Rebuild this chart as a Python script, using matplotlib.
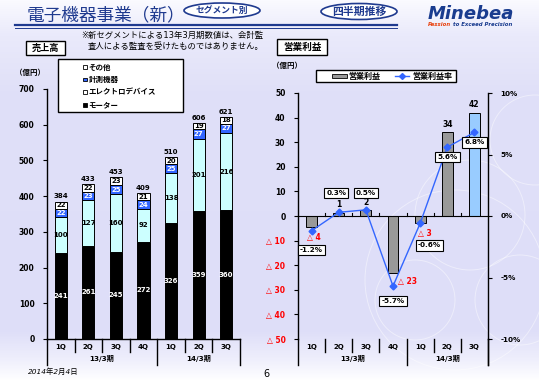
import numpy as np
import matplotlib.pyplot as plt
from matplotlib.patches import Rectangle, Ellipse, Circle
from matplotlib.lines import Line2D

plt.rcParams['font.family'] = ['DejaVu Sans', 'Noto Sans CJK JP']

# データ
quarters = ['1Q', '2Q', '3Q', '4Q', '1Q', '2Q', '3Q']
periods = ['13/3期', '14/3期']

motor = [241, 261, 245, 272, 326, 359, 360]
electro = [100, 127, 160, 92, 138, 201, 216]
measure = [22, 23, 25, 24, 25, 27, 27]
other = [22, 22, 23, 21, 20, 19, 18]
sales_total = [384, 433, 453, 409, 510, 606, 621]

op_profit = [-4.4, 1.4, 2.3, -23, -3, 34, 42]
op_margin = [-1.2, 0.3, 0.5, -5.7, -0.6, 5.6, 6.8]

W, H = 539, 380
NAVY = '#1f3a8f'
BLUE = '#3366ff'
RED = '#ff0000'

fig = plt.figure(figsize=(W / 100, H / 100), dpi=100)

# 背景グラデーション
bg = fig.add_axes([0, 0, 1, 1], zorder=-5)
stops_y = [0, 35, 90, 330, 358, 380]
stops_c = [(250, 250, 255), (234, 234, 251), (224, 224, 248), (222, 222, 248), (238, 238, 252), (255, 255, 255)]
yy = np.arange(H)
grad = np.stack([np.interp(yy, stops_y, [c[i] for c in stops_c]) for i in range(3)], axis=-1) / 255
bg.imshow(grad[:, None, :], aspect='auto', extent=[0, W, H, 0])
for (cx, cy, r) in [(455, 280, 90), (415, 300, 40), (520, 300, 45), (535, 140, 45), (470, 215, 55)]:
    bg.add_patch(Circle((cx, cy), r, fill=False, ec='white', lw=0.7, alpha=0.45))
bg.set_xlim(0, W)
bg.set_ylim(H, 0)
bg.axis('off')

x = np.arange(len(quarters))


def draw_category_axis(ax, h_px):
    tr = ax.get_xaxis_transform()
    for xb in [0.5, 1.5, 2.5, 4.5, 5.5]:
        ax.add_line(Line2D([xb, xb], [0, -13 / h_px], transform=tr, color='black', lw=1, clip_on=False))
    for xb in [-0.5, 3.5, 6.5]:
        ax.add_line(Line2D([xb, xb], [0, -26 / h_px], transform=tr, color='black', lw=1, clip_on=False))
    for xi, q in zip(x, quarters):
        ax.text(xi, -7.5 / h_px, q, transform=tr, ha='center', va='center', fontsize=5, fontweight='bold')
    ax.text(1.5, -19.5 / h_px, periods[0], transform=tr, ha='center', va='center', fontsize=5.2, fontweight='bold')
    ax.text(5, -19.5 / h_px, periods[1], transform=tr, ha='center', va='center', fontsize=5.2, fontweight='bold')


# 売上高
ax1 = fig.add_axes([47 / W, 1 - 339 / H, 193 / W, 250 / H])
ax1.patch.set_alpha(0)
bottom = np.zeros(len(x))
layers = [(motor, 'black', 'white'), (electro, '#ccffff', 'black'),
          (measure, BLUE, 'white'), (other, 'white', 'black')]
for vals, fc, tc in layers:
    ax1.bar(x, vals, 0.44, bottom=bottom, color=fc, edgecolor='black', lw=0.7)
    for xi, v, b in zip(x, vals, bottom):
        ax1.text(xi, b + v / 2, str(v), ha='center', va='center', fontsize=5, fontweight='bold', color=tc)
    bottom = bottom + np.array(vals)
for xi, b, t in zip(x, bottom, sales_total):
    ax1.annotate(str(t), (xi, b), xytext=(0, 2), textcoords='offset pixels',
                 ha='center', va='bottom', fontsize=5, fontweight='bold')
ax1.set_xlim(-0.5, 6.5)
ax1.set_ylim(0, 700)
ax1.set_yticks(range(0, 701, 100))
ax1.set_xticks([])
ax1.tick_params(axis='y', direction='out', length=3, width=0.8, labelsize=5.5, pad=6)
for lab in ax1.get_yticklabels():
    lab.set_fontweight('bold')
ax1.spines[['top', 'right']].set_visible(False)
ax1.spines[['left', 'bottom']].set_linewidth(1)
draw_category_axis(ax1, 250)

# 営業利益
ax2 = fig.add_axes([298 / W, 1 - 339 / H, 190 / W, 246 / H])
ax2.patch.set_alpha(0)
colors = ['#999999'] * 6 + ['#99ccff']
ax2.bar(x, op_profit, 0.4, color=colors, edgecolor='black', lw=0.7)
ax2.axhline(0, color='black', lw=0.8)
for xb in [0.5, 1.5, 2.5, 3.5, 4.5, 5.5]:
    ax2.plot([xb, xb], [0, 1.2], color='black', lw=0.8)
neg_offsets = {0: (2, -11), 3: (15, -9), 4: (5, -10)}
for i, v in enumerate(op_profit):
    n = int(round(v))
    if n >= 0:
        ax2.annotate(str(n), (x[i], v), xytext=(0, 8), textcoords='offset pixels',
                     ha='center', va='center', fontsize=5.5, fontweight='bold')
    else:
        ax2.annotate(f'△ {-n}', (x[i], v), xytext=neg_offsets[i], textcoords='offset pixels',
                     ha='center', va='center', fontsize=5.5, fontweight='bold', color=RED)
ax2.set_xlim(-0.5, 6.5)
ax2.set_ylim(-50, 50)
yt = list(range(-50, 51, 10))
ax2.set_yticks(yt)
ax2.set_yticklabels([str(v) if v >= 0 else f'△ {-v}' for v in yt])
ax2.set_xticks([])
ax2.tick_params(axis='y', direction='out', length=3, width=0.8, labelsize=5.5, pad=6)
for v, lab in zip(yt, ax2.get_yticklabels()):
    lab.set_fontweight('bold')
    if v < 0:
        lab.set_color(RED)
ax2.spines[['top', 'right', 'bottom']].set_visible(False)
ax2.spines['left'].set_linewidth(1)
draw_category_axis(ax2, 246)

ax3 = ax2.twinx()
ax3.plot(x, op_margin, color=BLUE, marker='D', ms=3.5, lw=1)
ax3.set_ylim(-10, 10)
ax3.set_yticks(range(-10, 11, 5))
ax3.set_yticklabels([f'{v}%' for v in range(-10, 11, 5)])
ax3.tick_params(axis='y', direction='out', length=3, width=0.8, labelsize=5.2, pad=6)
for lab in ax3.get_yticklabels():
    lab.set_fontweight('bold')
ax3.spines[['top', 'left', 'bottom']].set_visible(False)
ax3.spines['right'].set_linewidth(1)
ax3.add_line(Line2D([1, 1], [0, -26 / 246], transform=ax3.transAxes, color='black', lw=1, clip_on=False))
rate_offsets = [(0, -19), (-2.5, 19), (0, 17), (0, -15), (9.5, -22), (0, -10), (0, -10)]
for xi, m, off in zip(x, op_margin, rate_offsets):
    ax3.annotate(f'{m:.1f}%', (xi, m), xytext=off, textcoords='offset pixels',
                 ha='center', va='center', fontsize=5.2, fontweight='bold', zorder=5,
                 bbox=dict(boxstyle='square,pad=0.3', fc='white', ec='black', lw=0.8))

# ヘッダー・凡例など
ov = fig.add_axes([0, 0, 1, 1], zorder=10)
ov.patch.set_alpha(0)
ov.set_xlim(0, W)
ov.set_ylim(H, 0)
ov.axis('off')

ov.text(27, 15, '電子機器事業（新）', fontsize=12.7, color=NAVY, va='center', ha='left')
ov.plot([15, 397], [24.5, 24.5], color=NAVY, lw=1.6)
ov.plot([15, 397], [27.6, 27.6], color=NAVY, lw=0.7)
ov.add_patch(Ellipse((222, 10.5), 76, 15, fc='white', ec=NAVY, lw=1.2))
ov.text(222, 10.5, 'セグメント別', fontsize=6.3, fontweight='bold', color=NAVY, ha='center', va='center')
ov.add_patch(Ellipse((359, 11.5), 76, 16, fc='white', ec=NAVY, lw=1.2))
ov.text(359, 11.5, '四半期推移', fontsize=7.8, fontweight='bold', color=NAVY, ha='center', va='center')
ov.text(428, 14, 'Minebea', fontsize=13, fontweight='bold', fontstyle='italic', color='#1a3c8f',
        ha='left', va='center')
ov.text(428, 25, 'Passion', fontsize=3.9, fontweight='bold', fontstyle='italic', color='#e8400c',
        ha='left', va='center')
ov.text(453, 25, 'to Exceed Precision', fontsize=3.9, fontweight='bold', fontstyle='italic', color='#1a3c8f',
        ha='left', va='center')

ov.text(81, 35, '※新セグメントによる13年3月期数値は、会計監', fontsize=6, ha='left', va='center')
ov.text(88, 46, '査人による監査を受けたものではありません。', fontsize=6, ha='left', va='center')

ov.add_patch(Rectangle((26, 41), 39, 14, fc='white', ec='black', lw=1))
ov.text(45.5, 48, '売上高', fontsize=6.6, fontweight='bold', ha='center', va='center')
ov.add_patch(Rectangle((277, 39), 50, 16, fc='white', ec='black', lw=1))
ov.text(302, 47, '営業利益', fontsize=6.9, fontweight='bold', ha='center', va='center')

ov.text(15, 72, '（億円）', fontsize=5.4, fontweight='bold', ha='left', va='center')
ov.text(272, 65, '（億円）', fontsize=5.4, fontweight='bold', ha='left', va='center')

# 左凡例
ov.add_patch(Rectangle((58, 59), 125, 53, fc='white', ec='black', lw=1))
legend_items = [('その他', 'white', 67), ('計測機器', BLUE, 79.5), ('エレクトロデバイス', 'white', 92), ('モーター', 'black', 105)]
for name, fc, ly in legend_items:
    ov.add_patch(Rectangle((83, ly - 1.8), 3.6, 3.6, fc=fc, ec='black', lw=0.6))
    ov.text(88.5, ly, name, fontsize=5.4, fontweight='bold', ha='left', va='center')

# 右凡例
ov.add_patch(Rectangle((316, 70), 140, 12, fc='white', ec='black', lw=1))
ov.add_patch(Rectangle((332, 74.2), 14.5, 3.6, fc='#999999', ec='black', lw=0.6))
ov.text(348, 76, '営業利益', fontsize=5.8, fontweight='bold', ha='left', va='center')
ov.plot([395, 409], [76, 76], color=BLUE, lw=1)
ov.plot([402], [76], marker='D', ms=3, color=BLUE)
ov.text(412, 76, '営業利益率', fontsize=5.8, fontweight='bold', ha='left', va='center')

ov.text(28, 371, '2014年2月4日', fontsize=5.3, fontstyle='italic', ha='left', va='center')
ov.text(266, 374, '6', fontsize=7, ha='center', va='center')

fig.savefig('out.png', dpi=100)
